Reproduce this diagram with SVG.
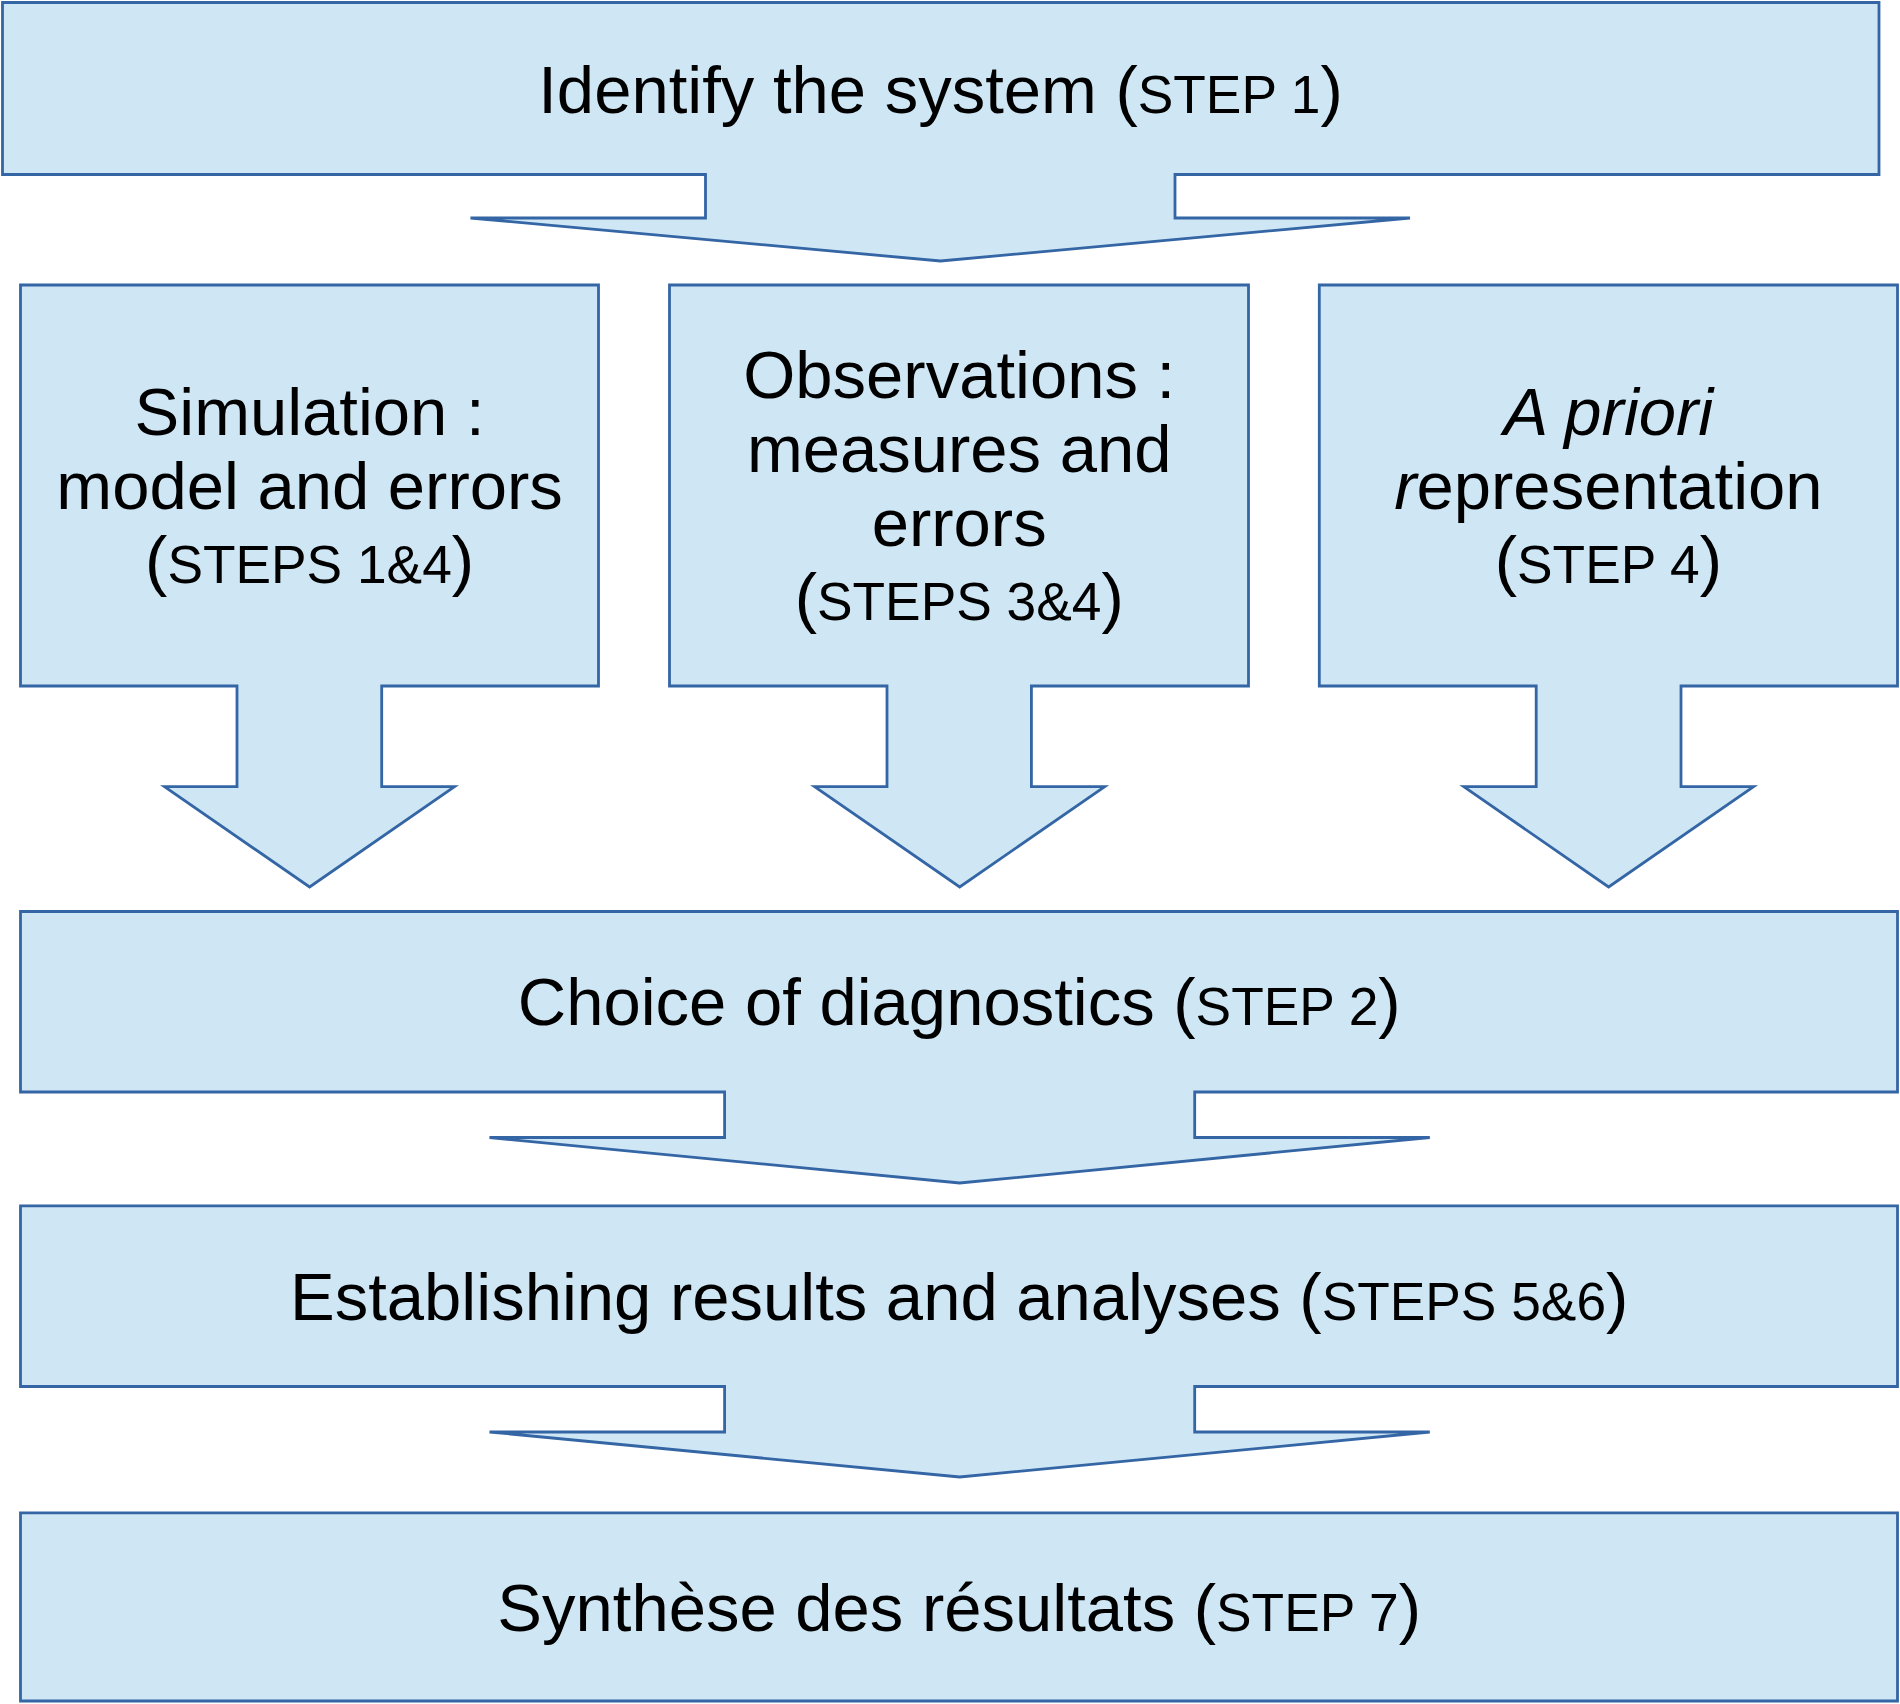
<svg xmlns="http://www.w3.org/2000/svg" width="1900" height="1704" viewBox="0 0 1900 1704">
<style>
.shape{fill:#cfe7f5;stroke:#3465a4;stroke-width:2.8;stroke-linejoin:miter}
.t{font-family:"Liberation Sans",Arial,sans-serif;font-size:67px;fill:#000;text-anchor:middle}
.s{font-size:53.3px}
.i{font-style:italic}
</style>
<rect width="1900" height="1704" fill="#ffffff"/>
<g id="node-identify">
<path class="shape" d="M2.5,2.5 H1879 V174.5 H1175 V218 H1410 L940.5,261 L470.5,218 H705.5 V174.5 H2.5 Z"/>
<text class="t" x="940.5" y="113">Identify the system (<tspan class="s">STEP 1</tspan>)</text>
</g>
<g id="node-simulation">
<path class="shape" d="M20.5,285 H598.5 V686 H381.7 V786.7 H454.5 L309.6,887 L164.5,786.7 H237 V686 H20.5 Z"/>
<text class="t" x="309.6" y="435">Simulation :</text>
<text class="t" x="309.6" y="509">model and errors</text>
<text class="t" x="309.6" y="583">(<tspan class="s">STEPS 1&amp;4</tspan>)</text>
</g>
<g id="node-observations">
<path class="shape" d="M669.5,285 H1248.5 V686 H1031.4 V786.7 H1104.7 L959.7,887 L814.6,786.7 H887 V686 H669.5 Z"/>
<text class="t" x="959.2" y="398">Observations :</text>
<text class="t" x="959.2" y="472">measures and</text>
<text class="t" x="959.2" y="546">errors</text>
<text class="t" x="959.2" y="620">(<tspan class="s">STEPS 3&amp;4</tspan>)</text>
</g>
<g id="node-apriori">
<path class="shape" d="M1319.3,285 H1897.5 V686 H1681 V786.7 H1753.6 L1608.6,887 L1463.8,786.7 H1536.2 V686 H1319.3 Z"/>
<text class="t i" x="1608.4" y="435">A priori</text>
<text class="t" x="1608.4" y="509"><tspan class="i">r</tspan>epresentation</text>
<text class="t" x="1608.4" y="583">(<tspan class="s">STEP 4</tspan>)</text>
</g>
<g id="node-diagnostics">
<path class="shape" d="M20.5,911.5 H1897.5 V1092 H1194.7 V1137.5 H1429.8 L959.7,1183 L489.5,1137.5 H724.6 V1092 H20.5 Z"/>
<text class="t" x="959.2" y="1025">Choice of diagnostics (<tspan class="s">STEP 2</tspan>)</text>
</g>
<g id="node-results">
<path class="shape" d="M20.5,1205.8 H1897.5 V1386.5 H1194.7 V1432 H1429.8 L959.7,1477 L489.5,1432 H724.6 V1386.5 H20.5 Z"/>
<text class="t" x="959.2" y="1319.5">Establishing results and analyses (<tspan class="s">STEPS 5&amp;6</tspan>)</text>
</g>
<g id="node-synthese">
<path class="shape" d="M20.5,1512.8 H1897.5 V1701 H20.5 Z"/>
<text class="t" x="959.2" y="1631">Synthèse des résultats (<tspan class="s">STEP 7</tspan>)</text>
</g>
<g id="connectors"/>
</svg>
